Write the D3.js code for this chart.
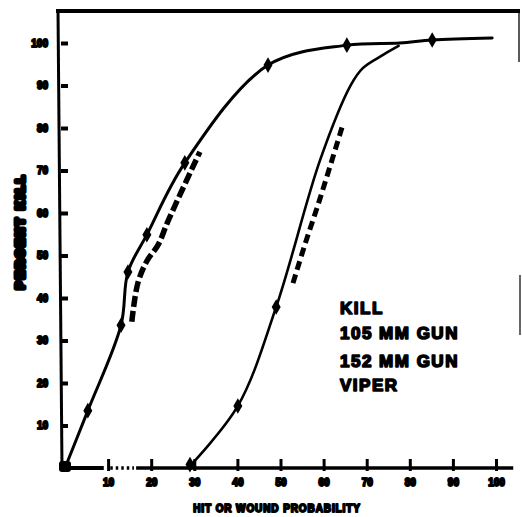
<!DOCTYPE html>
<html><head><meta charset="utf-8">
<script src="https://cdn.jsdelivr.net/npm/d3@7"></script>
<style>body{margin:0;background:#fff}svg{display:block}</style>
</head><body>
<svg id="c" width="522" height="517"></svg>
<script>
// ---- data ----
const xTickValues = [10,20,30,40,50,60,70,80,90,100];
const xTickLabels = ["10","20","30","40","50","60","70","80","90","100"];
const yTickValues = [10,20,30,40,50,60,70,80,90,100];
const yTickLabels = ["10","20","30","40","50","60","70","80","90","100"];

const killX = [0,5.3,13.0,14.6,19.0,27.8,47.1,65.4,77.7,85.2,99.1];
const killY = [0,13.5,33.6,46.1,54.9,71.8,94.8,99.5,100.0,100.7,101.2];
const killMarkX = [5.3,13.0,14.6,19.0,27.8,47.1,65.4,85.2];
const killMarkY = [13.5,33.6,46.1,54.9,71.8,94.8,99.5,100.7];

const gunX = [29.0,40.1,49.0,59.2,66.3,69.1,73.8,77.4];
const gunY = [0.5,14.6,37.9,72.5,90.1,94.1,97.2,99.3];
const gunMarkX = [29.0,40.1,49.0];
const gunMarkY = [0.8,14.6,37.9];

const dashAX = [15.5,16.9,19.0,21.6,23.9,31.3];
const dashAY = [34.4,43.5,48.7,52.5,58.1,74.4];
const dashBX = [52.9,55.7,59.2,64.5];
const dashBY = [43.5,52.7,63.5,80.9];

const legendLines = ["KILL","105 MM GUN","152 MM GUN","VIPER"];
const xTitle = "HIT OR WOUND PROBABILITY";
const yTitle = "PERCENT KILL";

// ---- drawing ----
const svg = d3.select("#c");
const x = d3.scaleLinear().domain([0,100]).range([65,496]);
const y = d3.scaleLinear().domain([0,100]).range([468,43]);
const ink = "#000";
const font = "'Liberation Sans', Arial, sans-serif";

// frame
svg.append("line").attr("x1",56).attr("y1",11).attr("x2",520).attr("y2",11)
  .attr("stroke",ink).attr("stroke-width",4);
svg.append("line").attr("x1",58).attr("y1",10).attr("x2",62).attr("y2",468)
  .attr("stroke",ink).attr("stroke-width",3);
svg.append("line").attr("x1",519).attr("y1",10).attr("x2",519).attr("y2",62)
  .attr("stroke",ink).attr("stroke-width",1.3);
svg.append("line").attr("x1",520).attr("y1",275).attr("x2",520).attr("y2",335)
  .attr("stroke",ink).attr("stroke-width",1.2);

// x axis
const xAxis = d3.axisBottom(x).tickValues(xTickValues)
  .tickFormat((d,i)=>xTickLabels[i]).tickSizeInner(-9).tickSizeOuter(0).tickPadding(11);
const gx = svg.append("g").attr("transform","translate(0,468)").call(xAxis);
gx.select(".domain").remove();
gx.selectAll(".tick line").attr("stroke",ink).attr("stroke-width",3).attr("y2",-9).attr("y1",3);
gx.selectAll(".tick text").attr("font-family",font).attr("font-weight","bold")
  .attr("font-size",10).attr("fill",ink).attr("stroke",ink).attr("stroke-width",1.8)
  .attr("stroke-linejoin","round");
// axis line (solid + dotted part)
svg.append("line").attr("x1",x(0)-3).attr("x2",x(9)).attr("y1",468).attr("y2",468)
  .attr("stroke",ink).attr("stroke-width",4);
svg.append("line").attr("x1",x(10.5)).attr("x2",x(16)).attr("y1",468).attr("y2",468)
  .attr("stroke",ink).attr("stroke-width",3.5).attr("stroke-dasharray","2.5,3");
svg.append("line").attr("x1",x(16.5)).attr("x2",x(104)).attr("y1",468).attr("y2",468)
  .attr("stroke",ink).attr("stroke-width",3.5);

// y axis
const yAxis = d3.axisLeft(y).tickValues(yTickValues)
  .tickFormat((d,i)=>yTickLabels[i]).tickSizeInner(-7).tickSizeOuter(0).tickPadding(13);
const gy = svg.append("g").attr("transform","translate(61,0)").call(yAxis);
gy.select(".domain").remove();
gy.selectAll(".tick line").attr("stroke",ink).attr("stroke-width",4);
gy.selectAll(".tick text").attr("font-family",font).attr("font-weight","bold")
  .attr("font-size",10).attr("fill",ink).attr("stroke",ink).attr("stroke-width",1.8)
  .attr("stroke-linejoin","round");

// titles
svg.append("text").attr("x",277).attr("y",512).attr("text-anchor","middle")
  .attr("font-family",font).attr("font-weight","bold").attr("font-size",10)
  .attr("letter-spacing",0.9)
  .attr("fill",ink).attr("stroke",ink).attr("stroke-width",1.8).attr("stroke-linejoin","round")
  .text(xTitle);
svg.append("text").attr("transform","translate(24,231) rotate(-90)").attr("text-anchor","middle")
  .attr("font-family",font).attr("font-weight","bold").attr("font-size",11)
  .attr("letter-spacing",3)
  .attr("fill",ink).attr("stroke",ink).attr("stroke-width",5).attr("stroke-linejoin","round")
  .text(yTitle);

// curves
const line = d3.line().curve(d3.curveCatmullRom.alpha(0.5));
svg.append("path").attr("d", line(killX.map((v,i)=>[x(v),y(killY[i])])))
  .attr("fill","none").attr("stroke",ink).attr("stroke-width",3).attr("stroke-linecap","round");
svg.append("path").attr("d", line(gunX.map((v,i)=>[x(v),y(gunY[i])])))
  .attr("fill","none").attr("stroke",ink).attr("stroke-width",2.6).attr("stroke-linecap","round");
svg.append("path").attr("d", line(dashAX.map((v,i)=>[x(v),y(dashAY[i])])))
  .attr("fill","none").attr("stroke",ink).attr("stroke-width",5.5).attr("stroke-dasharray","11,4");
svg.append("path").attr("d", line(dashBX.map((v,i)=>[x(v),y(dashBY[i])])))
  .attr("fill","none").attr("stroke",ink).attr("stroke-width",5).attr("stroke-dasharray","9,5");

// markers
const diamond = d3.symbol().type(d3.symbolDiamond).size(70);
svg.append("g").selectAll("path").data(killMarkX).join("path")
  .attr("d",diamond).attr("transform",(d,i)=>`translate(${x(d)},${y(killMarkY[i])})`).attr("fill",ink);
svg.append("g").selectAll("path").data(gunMarkX).join("path")
  .attr("d",diamond).attr("transform",(d,i)=>`translate(${x(d)},${y(gunMarkY[i])})`).attr("fill",ink);
// origin blob
svg.append("rect").attr("x",x(0)-6).attr("y",y(0)-7).attr("width",12).attr("height",11)
  .attr("rx",3).attr("fill",ink);

// legend text
svg.append("g").selectAll("text").data(legendLines).join("text")
  .attr("x",340).attr("y",(d,i)=>[314,339,367,391][i])
  .attr("font-family",font).attr("font-weight","bold").attr("font-size",17)
  .attr("letter-spacing",1.5)
  .attr("fill",ink).attr("stroke",ink).attr("stroke-width",1.6).attr("stroke-linejoin","round")
  .text(d=>d);
</script>
</body></html>
